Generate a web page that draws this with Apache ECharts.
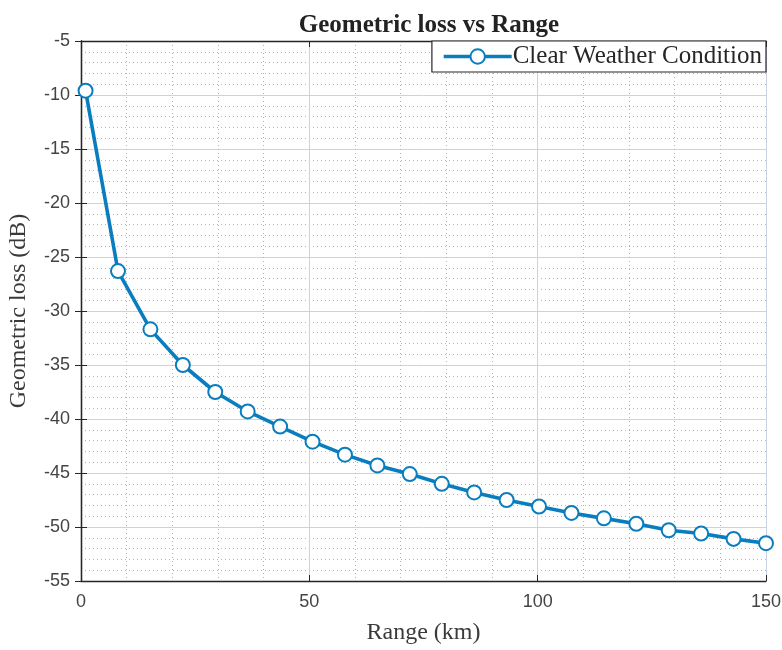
<!DOCTYPE html>
<html>
<head>
<meta charset="utf-8">
<script src="https://cdn.jsdelivr.net/npm/echarts@6/dist/echarts.min.js"></script>
<style>
  html, body { margin: 0; padding: 0; background: #fff; }
  #chart { width: 782px; height: 650px; }
</style>
</head>
<body>
<div id="chart"></div>
<script>
// range samples (km) and geometric loss (dB)
var rangeKm = [1, 8.1, 15.2, 22.3, 29.4, 36.5, 43.6, 50.7, 57.8, 64.9, 72.0,
               79.0, 86.1, 93.2, 100.3, 107.4, 114.5, 121.6, 128.7, 135.8, 142.9, 150];
var lossDb = [-9.6, -26.3, -31.7, -35.0, -37.5, -39.3, -40.7, -42.1, -43.3, -44.3, -45.1,
              -46.0, -46.8, -47.5, -48.1, -48.7, -49.2, -49.7, -50.3, -50.6, -51.1, -51.5];
var seriesName = 'Clear Weather Condition';

var serif = '"Liberation Serif", "DejaVu Serif", serif';
var sans = '"Liberation Sans", Arial, sans-serif';
var lineColor = '#0a7dbf';
var frameColor = '#262626';

var points = rangeKm.map(function (x, i) { return [x, lossDb[i]]; });

var chart = echarts.init(document.getElementById('chart'));

// minor dotted grid + solid major grid, MATLAB look
var majorLine = { show: true, lineStyle: { color: '#cdd2e3', width: 1 } };
var minorLine = { show: true, lineStyle: { color: '#b3b3b3', width: 1, type: [1, 3] } };
var frameLine = { show: true, lineStyle: { color: frameColor, width: 1.3 } };
var frameTick = { show: true, inside: true, length: 6, lineStyle: { color: frameColor } };

var option = {
    backgroundColor: '#fff',
    animation: false,
    title: {
        text: 'Geometric loss vs Range',
        left: 424,
        top: 8,
        textAlign: 'center',
        textStyle: { fontFamily: serif, fontWeight: 'bold', fontSize: 25, color: '#222' }
    },
    legend: {
        data: [seriesName],
        right: 16,
        top: 41,
        orient: 'vertical',
        backgroundColor: '#fff',
        borderColor: frameColor,
        borderWidth: 1.2,
        borderRadius: 0,
        padding: [3, 4, 3, 10],
        itemWidth: 68,
        itemHeight: 18,
        itemGap: 0,
        lineStyle: { width: 3.6 },
        itemStyle: { borderWidth: 3 },
        textStyle: { fontFamily: serif, fontSize: 25, color: '#262626', padding: [0, 0, 0, -4] }
    },
    grid: {
        left: 81,
        right: 16,
        top: 41,
        bottom: 69,
        outerBoundsMode: 'none'
    },
    xAxis: [{
        type: 'value',
        min: 0,
        max: 150,
        interval: 50,
        name: 'Range (km)',
        nameLocation: 'middle',
        nameGap: 40,
        nameTextStyle: { fontFamily: serif, fontSize: 24, color: '#3a3a3a' },
        axisLine: frameLine,
        axisTick: frameTick,
        axisLabel: { fontFamily: sans, fontSize: 18, color: '#444', margin: 12 },
        splitLine: majorLine,
        minorTick: { show: false, splitNumber: 5 },
        minorSplitLine: minorLine
    }, {
        type: 'value',
        position: 'top',
        min: 0,
        max: 150,
        interval: 50,
        axisLine: frameLine,
        axisTick: frameTick,
        axisLabel: { show: false },
        splitLine: { show: false }
    }],
    yAxis: [{
        type: 'value',
        min: -55,
        max: -5,
        interval: 5,
        name: 'Geometric loss (dB)',
        nameLocation: 'middle',
        nameGap: 50,
        nameTextStyle: { fontFamily: serif, fontSize: 24, color: '#3a3a3a' },
        axisLine: frameLine,
        axisTick: frameTick,
        axisLabel: { fontFamily: sans, fontSize: 18, color: '#444', margin: 11 },
        splitLine: majorLine,
        minorTick: { show: false, splitNumber: 5 },
        minorSplitLine: minorLine
    }, {
        type: 'value',
        position: 'right',
        min: -55,
        max: -5,
        interval: 5,
        axisLine: frameLine,
        axisTick: frameTick,
        axisLabel: { show: false },
        splitLine: { show: false }
    }],
    series: [{
        name: seriesName,
        type: 'line',
        data: points,
        symbol: 'emptyCircle',
        symbolSize: 14,
        lineStyle: { color: lineColor, width: 3.6 },
        itemStyle: { color: lineColor, borderColor: lineColor, borderWidth: 3.4 },
        z: 5
    }]
};

chart.setOption(option);
</script>
</body>
</html>
